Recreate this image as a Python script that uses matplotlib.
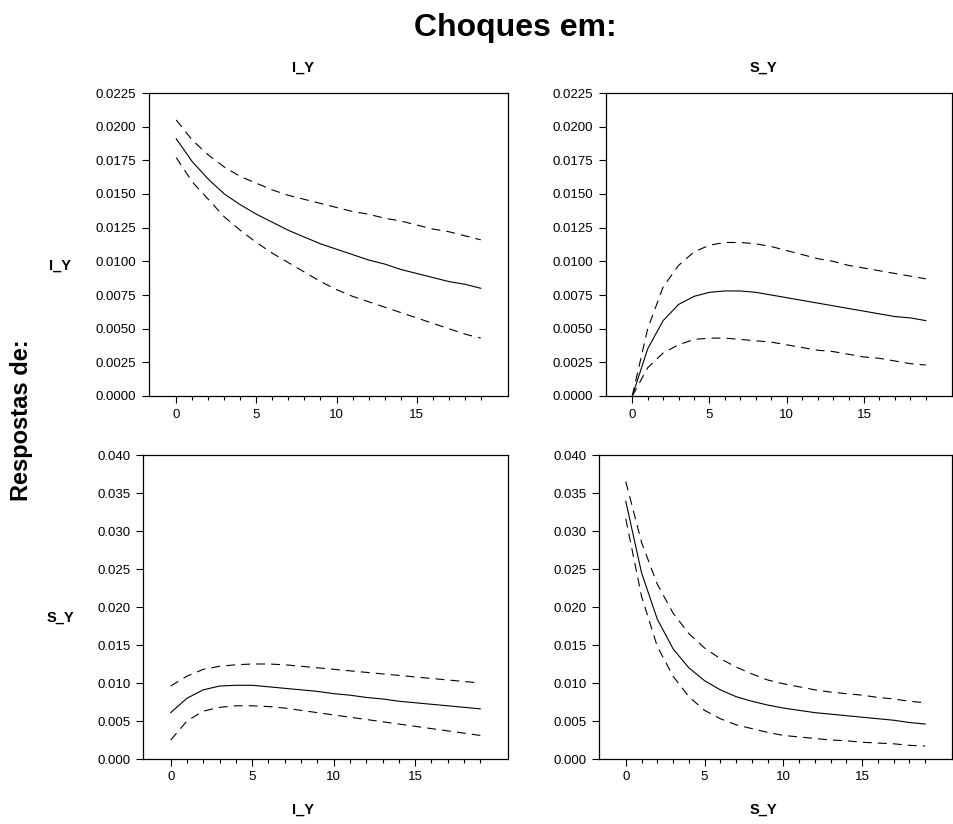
import numpy as np
import matplotlib
matplotlib.use('Agg')
import matplotlib.pyplot as plt
from matplotlib.ticker import FixedLocator, MultipleLocator, FormatStrFormatter

plt.rcParams['font.family'] = ['Liberation Sans', 'DejaVu Sans']

# Horizons
steps = np.arange(20)
xticks_major = [0, 5, 10, 15]

# Response of I_Y to shock in I_Y
iy_iy = [0.0191, 0.0174, 0.0161, 0.0150, 0.0142, 0.0135, 0.0129, 0.0123, 0.0118, 0.0113,
         0.0109, 0.0105, 0.0101, 0.0098, 0.0094, 0.0091, 0.0088, 0.0085, 0.0083, 0.0080]
iy_iy_hi = [0.0205, 0.0190, 0.0179, 0.0170, 0.0163, 0.0158, 0.0153, 0.0149, 0.0146, 0.0143,
            0.0140, 0.0137, 0.0135, 0.0132, 0.0130, 0.0127, 0.0124, 0.0122, 0.0119, 0.0116]
iy_iy_lo = [0.0177, 0.0159, 0.0146, 0.0133, 0.0123, 0.0114, 0.0106, 0.0099, 0.0092, 0.0085,
            0.0079, 0.0074, 0.0070, 0.0066, 0.0062, 0.0058, 0.0054, 0.0050, 0.0046, 0.0043]

# Response of I_Y to shock in S_Y
iy_sy = [0.0, 0.0035, 0.0056, 0.0068, 0.0074, 0.0077, 0.0078, 0.0078, 0.0077, 0.0075,
         0.0073, 0.0071, 0.0069, 0.0067, 0.0065, 0.0063, 0.0061, 0.0059, 0.0058, 0.0056]
iy_sy_hi = [0.0, 0.0050, 0.0081, 0.0097, 0.0107, 0.0112, 0.0114, 0.0114, 0.0113, 0.0111,
            0.0108, 0.0105, 0.0102, 0.0100, 0.0097, 0.0095, 0.0093, 0.0091, 0.0089, 0.0087]
iy_sy_lo = [0.0, 0.0021, 0.0032, 0.0038, 0.0042, 0.0043, 0.0043, 0.0042, 0.0041, 0.0040,
            0.0038, 0.0036, 0.0034, 0.0033, 0.0031, 0.0029, 0.0028, 0.0026, 0.0024, 0.0023]

# Response of S_Y to shock in I_Y
sy_iy = [0.0061, 0.0080, 0.0091, 0.0096, 0.0097, 0.0097, 0.0095, 0.0093, 0.0091, 0.0089,
         0.0086, 0.0084, 0.0081, 0.0079, 0.0076, 0.0074, 0.0072, 0.0070, 0.0068, 0.0066]
sy_iy_hi = [0.0096, 0.0109, 0.0118, 0.0122, 0.0124, 0.0125, 0.0125, 0.0124, 0.0122, 0.0120,
            0.0118, 0.0116, 0.0114, 0.0112, 0.0110, 0.0108, 0.0106, 0.0104, 0.0102, 0.0100]
sy_iy_lo = [0.0025, 0.0050, 0.0063, 0.0068, 0.0070, 0.0070, 0.0069, 0.0067, 0.0064, 0.0061,
            0.0058, 0.0055, 0.0052, 0.0049, 0.0046, 0.0043, 0.0040, 0.0037, 0.0034, 0.0031]

# Response of S_Y to shock in S_Y
sy_sy = [0.0339, 0.0245, 0.0184, 0.0145, 0.0120, 0.0103, 0.0091, 0.0082, 0.0076, 0.0071,
         0.0067, 0.0064, 0.0061, 0.0059, 0.0057, 0.0055, 0.0053, 0.0051, 0.0048, 0.0046]
sy_sy_hi = [0.0365, 0.0285, 0.0230, 0.0192, 0.0165, 0.0146, 0.0132, 0.0121, 0.0112, 0.0104,
            0.0099, 0.0095, 0.0091, 0.0088, 0.0086, 0.0084, 0.0081, 0.0079, 0.0076, 0.0074]
sy_sy_lo = [0.0316, 0.0214, 0.0148, 0.0109, 0.0082, 0.0064, 0.0053, 0.0045, 0.0040, 0.0035,
            0.0031, 0.0029, 0.0027, 0.0025, 0.0024, 0.0022, 0.0021, 0.0020, 0.0018, 0.0017]

W, H = 954, 824
fig = plt.figure(figsize=(W / 100, H / 100), dpi=100)


def make_ax(left, right, top, bottom):
    return fig.add_axes([left / W, 1 - bottom / H, (right - left) / W, (bottom - top) / H])


panels = [
    (make_ax(149, 508, 93, 396), iy_iy, iy_iy_hi, iy_iy_lo, 0.0225, 0.0025, '%.4f'),
    (make_ax(606, 952, 93, 396), iy_sy, iy_sy_hi, iy_sy_lo, 0.0225, 0.0025, '%.4f'),
    (make_ax(143, 508, 455, 759), sy_iy, sy_iy_hi, sy_iy_lo, 0.040, 0.005, '%.3f'),
    (make_ax(599, 952, 455, 759), sy_sy, sy_sy_hi, sy_sy_lo, 0.040, 0.005, '%.3f'),
]

for ax, mid, hi, lo, ymax, ystep, fmt in panels:
    ax.plot(steps, mid, color='black', lw=0.8)
    for band in (hi, lo):
        ln, = ax.plot(steps, band, color='black', lw=0.8)
        ln.set_dashes((8, 5.5))
    ax.set_xlim(-1.7, 20.7)
    ax.set_ylim(0, ymax)
    ax.xaxis.set_major_locator(FixedLocator(xticks_major))
    ax.xaxis.set_minor_locator(FixedLocator(steps))
    ax.yaxis.set_major_locator(MultipleLocator(ystep))
    ax.yaxis.set_major_formatter(FormatStrFormatter(fmt))
    ax.tick_params(which='major', length=5, width=0.8, labelsize=9.5, pad=4)
    ax.tick_params(which='minor', length=3, width=0.8)
    ax.tick_params(axis='y', which='minor', left=False)
    for sp in ax.spines.values():
        sp.set_linewidth(0.9)

fig.text(515 / W, 1 - 28 / H, 'Choques em:', ha='center', va='center',
         fontsize=23, fontweight='bold')
fig.text(22 / W, 1 - 420 / H, 'Respostas de:', ha='center', va='center',
         fontsize=17, fontweight='bold', rotation=90)

for x, label in ((303, 'I_Y'), (763, 'S_Y')):
    fig.text(x / W, 1 - 68 / H, label, ha='center', va='center', fontsize=10.5, fontweight='bold')
    fig.text(x / W, 1 - 810 / H, label, ha='center', va='center', fontsize=10.5, fontweight='bold')

fig.text(60 / W, 1 - 266 / H, 'I_Y', ha='center', va='center', fontsize=10.5, fontweight='bold')
fig.text(60 / W, 1 - 618 / H, 'S_Y', ha='center', va='center', fontsize=10.5, fontweight='bold')

fig.savefig('out.png', dpi=100)
